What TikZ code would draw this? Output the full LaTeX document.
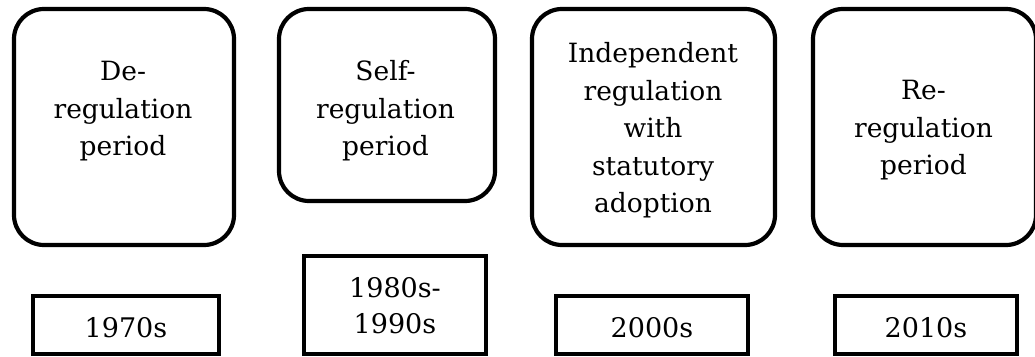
\documentclass[tikz,border=0pt]{standalone}
\usepackage{fontspec}
\setmainfont{DejaVu Serif}
\begin{document}
\begin{tikzpicture}[x=1pt,y=1pt,
  period/.style={draw=black,line width=4.2pt,rounded corners=30pt,inner sep=0pt,outer sep=0pt},
  yearbox/.style={draw=black,line width=4.2pt,inner sep=0pt,outer sep=0pt},
  lbl/.style={align=center,anchor=base,inner sep=0pt,font=\fontsize{26.5}{37.5}\selectfont},
  ylbl/.style={align=center,anchor=base,inner sep=0pt,font=\fontsize{27}{36}\selectfont}]
\useasboundingbox (0,0) rectangle (1035,356);
\node[period,minimum width=220pt,minimum height=236pt] (p1) at (124,229) {};
\node[period,minimum width=216pt,minimum height=192pt] (p2) at (387,251) {};
\node[period,minimum width=243pt,minimum height=236pt] (p3) at (653.5,229) {};
\node[period,minimum width=223pt,minimum height=236pt] (p4) at (924.5,229) {};
\node[lbl] (t1) at (123,200) {De-\\regulation\\period};
\node[lbl] (t2) at (385.5,200) {Self-\\regulation\\period};
\node[lbl] (t3) at (653,143) {Independent\\regulation\\with\\statutory\\adoption};
\node[lbl] (t4) at (923.5,181) {Re-\\regulation\\period};
\node[yearbox,minimum width=186pt,minimum height=58pt] (y1) at (126,31) {};
\node[yearbox,minimum width=182pt,minimum height=98pt] (y2) at (395,51) {};
\node[yearbox,minimum width=192pt,minimum height=58pt] (y3) at (652,31) {};
\node[yearbox,minimum width=182pt,minimum height=58pt] (y4) at (926,31) {};
\node[ylbl] (l1) at (126,19) {1970s};
\node[ylbl] (l2) at (395,23) {1980s-\\1990s};
\node[ylbl] (l3) at (652,19) {2000s};
\node[ylbl] (l4) at (926,19) {2010s};
\end{tikzpicture}
\end{document}
